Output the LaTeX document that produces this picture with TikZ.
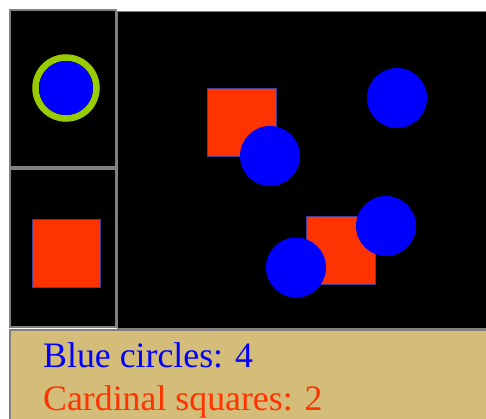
\documentclass[tikz,border=0pt]{standalone}
\usepackage{fontspec}
\setmainfont{Liberation Serif}
\definecolor{tanbg}{RGB}{211,189,121}
\definecolor{cardinal}{RGB}{255,51,0}
\definecolor{ringgreen}{RGB}{153,204,0}
\definecolor{edgegray}{RGB}{128,128,128}
\definecolor{sqedge}{RGB}{70,60,150}
\tikzset{
  panel/.style={fill=black, draw=edgegray, line width=2pt},
  redsq/.style={fill=cardinal, draw=sqedge, line width=0.8pt},
  bluedot/.style={fill=blue},
}
\begin{document}
\begin{tikzpicture}[x=1pt,y=-1pt]
\useasboundingbox (0,0) rectangle (486,419);
\clip (0,0) rectangle (486,419);
\fill[white] (0,0) rectangle (486,419);
% main canvas
\draw[panel, line width=1.5pt] (117.5,11.5) rectangle (495,329);
% left legend cells
\draw[panel] (10,10) rectangle (116,167);
\draw[panel] (10,169) rectangle (116,327);
% bottom tan bar
\draw[fill=tanbg, draw=edgegray, line width=2pt] (10,330) rectangle (495,430);
% legend circle
\fill[bluedot] (66,88) circle[radius=27pt];
\draw[ringgreen, line width=6.5pt] (66,88) circle[radius=30.5pt];
% legend square
\draw[redsq] (32,219) rectangle (100,287);
% main shapes
\draw[redsq] (207,88) rectangle (276,156);
\fill[bluedot] (270,156) circle[radius=30pt];
\fill[bluedot] (397,98) circle[radius=30pt];
\draw[redsq] (306,216) rectangle (375,284);
\fill[bluedot] (386,226) circle[radius=30pt];
\fill[bluedot] (296,267.5) circle[radius=30pt];
% texts
\node[anchor=base west, inner sep=0pt, text=blue, font=\fontsize{35.8}{43}\selectfont] (bluecount) at (43,367) {Blue circles: 4};
\node[anchor=base west, inner sep=0pt, text=cardinal, font=\fontsize{35.8}{43}\selectfont] (redcount) at (43,410) {Cardinal squares: 2};
\end{tikzpicture}
\end{document}
